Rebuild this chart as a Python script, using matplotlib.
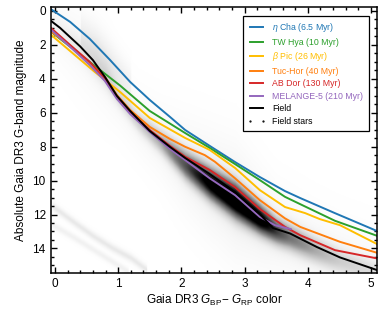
import numpy as np
import matplotlib
matplotlib.use('Agg')
import matplotlib.pyplot as plt

plt.rcParams['font.family'] = ['Liberation Sans', 'DejaVu Sans']
plt.rcParams['mathtext.fontset'] = 'custom'
plt.rcParams['mathtext.rm'] = 'Liberation Sans'
plt.rcParams['mathtext.it'] = 'Liberation Sans:italic'
plt.rcParams['mathtext.bf'] = 'Liberation Sans:bold'

# sequences: Gaia BP-RP color vs absolute G magnitude
eta_x = [-0.06, 0.24, 0.55, 0.87, 1.19, 1.50, 1.82, 2.06, 2.45, 2.85, 3.24, 3.64, 3.88, 4.43, 5.10]
eta_y = [-0.09, 0.65, 1.65, 2.89, 4.19, 5.25, 6.25, 7.02, 7.96, 8.91, 9.79, 10.62, 11.03, 11.92, 12.98]

twhya_x = [-0.06, 0.63, 1.03, 1.50, 2.06, 2.45, 2.85, 3.24, 3.64, 3.88, 4.43, 5.10]
twhya_y = [1.24, 3.24, 4.40, 5.90, 7.20, 8.08, 9.03, 9.97, 10.96, 11.39, 12.37, 13.26]

bpic_x = [-0.06, 0.63, 1.03, 1.50, 2.06, 2.45, 2.85, 3.24, 3.64, 3.80, 3.96, 4.19, 4.51, 5.10]
bpic_y = [1.42, 3.60, 4.78, 6.31, 7.49, 8.20, 9.26, 10.56, 11.56, 11.74, 11.92, 12.27, 12.63, 13.75]

tuchor_x = [-0.06, 0.24, 0.55, 0.79, 0.98, 1.19, 1.50, 1.82, 2.06, 2.37, 2.53, 2.85, 3.24, 3.64, 3.88, 4.51, 5.10]
tuchor_y = [1.22, 2.06, 3.07, 3.89, 4.96, 5.84, 6.84, 7.55, 8.01, 8.50, 8.89, 9.87, 11.15, 12.23, 12.73, 13.61, 14.26]

abdor_x = [-0.06, 0.24, 0.55, 0.79, 0.98, 1.19, 1.50, 1.82, 2.06, 2.45, 2.85, 3.24, 3.64, 3.88, 4.43, 5.10]
abdor_y = [1.02, 2.01, 3.01, 4.01, 5.07, 5.96, 7.02, 7.96, 8.60, 9.38, 10.39, 11.68, 12.73, 13.22, 14.10, 14.59]

mel5_x = [-0.06, 0.24, 0.55, 0.79, 0.98, 1.19, 1.50, 1.82, 2.06, 2.45, 2.85, 3.24, 3.48, 3.73]
mel5_y = [1.12, 2.12, 3.19, 4.13, 5.19, 6.08, 7.14, 8.14, 8.79, 9.87, 10.86, 12.14, 12.63, 12.86]

field_x = [-0.06, 0.08, 0.24, 0.40, 0.60, 0.79, 0.98, 1.19, 1.50, 1.82, 2.06, 2.45, 2.85, 3.24, 3.45, 3.72, 4.14, 4.51, 5.10]
field_y = [0.60, 1.00, 1.55, 2.10, 2.90, 3.89, 5.01, 5.90, 7.08, 8.02, 8.67, 9.62, 10.68, 11.98, 12.80, 13.12, 13.91, 14.53, 15.28]

# field star density ridges (x, y, width, weight)
ms_x = [-0.06, 0.4, 0.8, 1.0, 1.3, 1.66, 2.06, 2.45, 2.85, 3.24, 3.5, 3.7, 4.1, 4.5, 5.1]
ms_y = [0.7, 2.2, 3.9, 5.1, 6.5, 7.7, 9.1, 10.2, 11.2, 12.3, 13.0, 13.35, 14.1, 14.75, 15.5]
ms_w = [0.4, 0.5, 0.5, 0.4, 0.4, 0.45, 0.55, 0.6, 0.65, 0.55, 0.5, 0.5, 0.5, 0.5, 0.5]
ms_a = [0.03, 0.07, 0.1, 0.12, 0.15, 0.25, 0.5, 0.8, 0.95, 0.85, 0.55, 0.4, 0.25, 0.15, 0.1]

to_x = [0.4, 0.65, 0.9, 1.2]
to_y = [1.3, 2.3, 3.4, 4.5]
to_w = [0.7, 0.8, 0.8, 0.7]
to_a = [0.05, 0.08, 0.07, 0.04]

wd1_x = [-0.06, 0.3, 0.6, 0.9, 1.2, 1.45]
wd1_y = [11.5, 12.5, 13.3, 14.0, 14.6, 15.3]
wd2_x = [-0.06, 0.3, 0.6, 0.9, 1.15]
wd2_y = [12.6, 13.4, 14.1, 14.8, 15.4]

xs = np.linspace(-0.1, 5.2, 400)
ys = np.linspace(-0.3, 15.6, 500)


def ridge(rx, ry, rw, ra):
    yc = np.interp(xs, rx, ry)
    w = np.interp(xs, rx, rw)
    a = np.interp(xs, rx, ra)
    a = np.where((xs >= rx[0]) & (xs <= rx[-1]), a, 0)
    return a[None, :] * np.exp(-0.5 * ((ys[:, None] - yc[None, :]) / w[None, :]) ** 2)


dens = ridge(ms_x, ms_y, ms_w, ms_a)
dens += ridge(ms_x, ms_y, [3 * w for w in ms_w], [0.04 * a + 0.015 for a in ms_a])
dens += ridge(to_x, to_y, to_w, to_a)
dens += ridge(wd1_x, wd1_y, [0.16] * 6, [0.08] * 6)
dens += ridge(wd2_x, wd2_y, [0.14] * 5, [0.05] * 5)

fig = plt.figure(figsize=(3.89, 3.11), dpi=100)
ax = fig.add_axes([0.130, 0.122, 0.840, 0.855])

ax.imshow(dens ** 0.8, extent=[xs[0], xs[-1], ys[-1], ys[0]], aspect='auto',
          cmap='Greys', vmin=0, vmax=0.8, interpolation='bilinear', zorder=0)

lw = 1.4
ax.plot(eta_x, eta_y, color='#1f77b4', lw=lw, label=r'$\eta$ Cha (6.5 Myr)')
ax.plot(twhya_x, twhya_y, color='#2ca02c', lw=lw, label='TW Hya (10 Myr)')
ax.plot(bpic_x, bpic_y, color='#ffbe00', lw=lw, label=r'$\beta$ Pic (26 Myr)')
ax.plot(tuchor_x, tuchor_y, color='#ff7f0e', lw=lw, label='Tuc-Hor (40 Myr)')
ax.plot(abdor_x, abdor_y, color='#d62728', lw=lw, label='AB Dor (130 Myr)')
ax.plot(mel5_x, mel5_y, color='#9467bd', lw=lw, label='MELANGE-5 (210 Myr)')
ax.plot(field_x, field_y, color='black', lw=lw, label='Field')
ax.plot([], [], ls='none', marker='.', ms=1.2, color='black', label='Field stars')

ax.set_xlim(-0.07, 5.1)
ax.set_ylim(15.45, -0.22)
ax.set_xticks(range(0, 6))
ax.set_yticks(range(0, 15, 2))
ax.xaxis.set_minor_locator(matplotlib.ticker.MultipleLocator(0.2))
ax.yaxis.set_minor_locator(matplotlib.ticker.MultipleLocator(0.5))
ax.tick_params(which='both', direction='in', top=True, right=True, labelsize=8.5, width=1)
ax.tick_params(which='major', length=4.5)
ax.tick_params(which='minor', length=2.3)
for s in ax.spines.values():
    s.set_linewidth(1.1)

ax.set_xlabel(r'Gaia DR3 $G_{\rm BP}$$-$ $G_{\rm RP}$ color', fontsize=8.5, labelpad=2)
ax.set_ylabel('Absolute Gaia DR3 G-band magnitude', fontsize=8.5, labelpad=4)

leg = ax.legend(loc='upper right', fontsize=6.3, numpoints=2, handlelength=2.0,
                labelspacing=0.4, fancybox=False, framealpha=1, edgecolor='black',
                borderaxespad=1.0, borderpad=0.6)
leg.get_frame().set_linewidth(0.9)
for text, line in zip(leg.get_texts(), leg.get_lines()):
    text.set_color(line.get_color())

fig.savefig('out.png', dpi=100)
